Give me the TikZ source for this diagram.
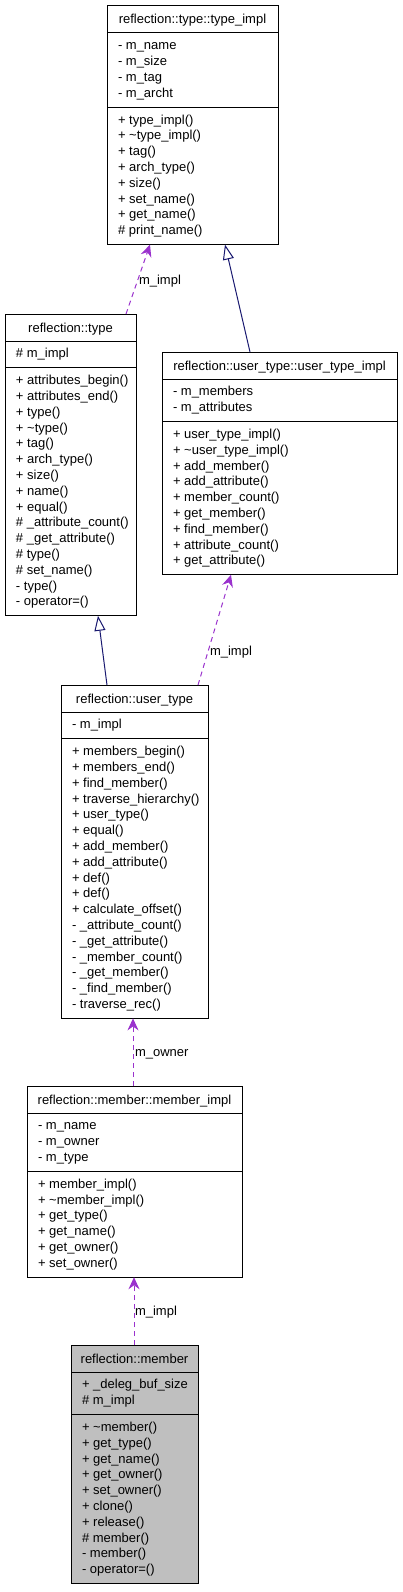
\documentclass[tikz,border=0pt]{standalone}
\usepackage{fontspec}
\setmainfont{Liberation Sans}
\usetikzlibrary{arrows.meta,calc}
\definecolor{usage}{HTML}{9A32CD}
\definecolor{inherit}{HTML}{191970}
\definecolor{membergray}{HTML}{BFBFBF}

\newcommand\Lh{15.8}
\newcommand\Th{27}
\newcommand\Pd{11}
\newcommand\classfill{white}

\tikzset{
 classbox/.style={draw=black, line width=1pt, inner sep=0pt, outer sep=0pt, rectangle},
 sepline/.style={draw=black, line width=1pt},
 txt/.style={inner sep=0pt, outer sep=0pt, font=\fontsize{13}{15.6}\selectfont},
 usageedge/.style={draw=usage, line width=1pt, dash pattern=on 5pt off 4pt, -{Stealth[length=12pt,width=11pt,inset=4pt,fill=usage]}},
 inheritedge/.style={draw=inherit, line width=1pt, -{Triangle[open, length=15pt, width=11pt, fill=white]}},
 edgelabel/.style={txt, anchor=base west},
}

\newcommand\umlclass[9]{%
  \pgfmathsetmacro\hA{#5*\Lh+\Pd}%
  \pgfmathsetmacro\hM{#6*\Lh+\Pd}%
  \pgfmathsetmacro\hH{\Th+\hA+\hM}%
  \node[classbox, fill=\classfill, minimum width=#4pt, minimum height=\hH pt, anchor=north west] (#1) at (#2,-#3) {};
  \draw[sepline] ($(#1.north west)+(0,-\Th)$) -- ++(#4,0);
  \draw[sepline] ($(#1.north west)+(0,-\Th-\hA)$) -- ++(#4,0);
  \node[txt, anchor=base] (#1-t) at ($(#1.north)+(0,-\Th/2-4.5)$) {#7};
  \foreach \itm [count=\i] in {#8} \node[txt, anchor=base west] (#1-a\i) at ({#2+11},{-(#3+\Th+\Pd/2+(\i-0.5)*\Lh+3.5)}) {\itm};
  \foreach \itm [count=\i] in {#9} \node[txt, anchor=base west] (#1-m\i) at ({#2+11},{-(#3+\Th+\hA+\Pd/2+(\i-0.5)*\Lh+3.5)}) {\itm};
}

\begin{document}
\begin{tikzpicture}[x=1pt,y=1pt]
\useasboundingbox (0,0) rectangle (403,-1592);

\umlclass{typeimpl}{107}{6}{171}{4}{8}{reflection::type::type\_impl}
 {- m\_name, - m\_size, - m\_tag, - m\_archt}
 {+ type\_impl(), + \textasciitilde type\_impl(), + tag(), + arch\_type(), + size(), + set\_name(), + get\_name(), \# print\_name()}

\umlclass{type}{5}{314}{131}{1}{15}{reflection::type}
 {\# m\_impl}
 {+ attributes\_begin(), + attributes\_end(), + type(), + \textasciitilde type(), + tag(), + arch\_type(), + size(), + name(), + equal(), \# \_attribute\_count(), \# \_get\_attribute(), \# type(), \# set\_name(), - type(), - operator=()}

\umlclass{usertypeimpl}{162}{352}{235}{2}{9}{reflection::user\_type::user\_type\_impl}
 {- m\_members, - m\_attributes}
 {+ user\_type\_impl(), + \textasciitilde user\_type\_impl(), + add\_member(), + add\_attribute(), + member\_count(), + get\_member(), + find\_member(), + attribute\_count(), + get\_attribute()}

\umlclass{usertype}{61}{685}{147}{1}{17}{reflection::user\_type}
 {- m\_impl}
 {+ members\_begin(), + members\_end(), + find\_member(), + traverse\_hierarchy(), + user\_type(), + equal(), + add\_member(), + add\_attribute(), + def(), + def(), + calculate\_offset(), - \_attribute\_count(), - \_get\_attribute(), - \_member\_count(), - \_get\_member(), - \_find\_member(), - traverse\_rec()}

\umlclass{memberimpl}{27}{1086}{215}{3}{6}{reflection::member::member\_impl}
 {- m\_name, - m\_owner, - m\_type}
 {+ member\_impl(), + \textasciitilde member\_impl(), + get\_type(), + get\_name(), + get\_owner(), + set\_owner()}

\renewcommand\classfill{membergray}
\umlclass{member}{71}{1345}{127}{2}{10}{reflection::member}
 {+ \_deleg\_buf\_size, \# m\_impl}
 {+ \textasciitilde member(), + get\_type(), + get\_name(), + get\_owner(), + set\_owner(), + clone(), + release(), \# member(), - member(), - operator=()}

% connectors
\draw[usageedge] ([xshift=121pt]type.north west) -- ([xshift=43pt]typeimpl.south west);
\node[edgelabel] (lblA) at (139,-284) {m\_impl};

\draw[inheritedge] ([xshift=88pt]usertypeimpl.north west) -- ([xshift=118pt]typeimpl.south west);

\draw[inheritedge] ([xshift=46pt]usertype.north west) -- ([xshift=93pt]type.south west);

\draw[usageedge] ([xshift=137pt]usertype.north west) -- ([xshift=69pt]usertypeimpl.south west);
\node[edgelabel] (lblD) at (210,-655) {m\_impl};

\draw[usageedge] ([xshift=106pt]memberimpl.north west) -- ([xshift=72pt]usertype.south west);
\node[edgelabel] (lblE) at (135,-1056) {m\_owner};

\draw[usageedge] ([xshift=63pt]member.north west) -- ([xshift=63pt]member.north west |- memberimpl.south);
\node[edgelabel] (lblF) at (135,-1315) {m\_impl};
\end{tikzpicture}
\end{document}
